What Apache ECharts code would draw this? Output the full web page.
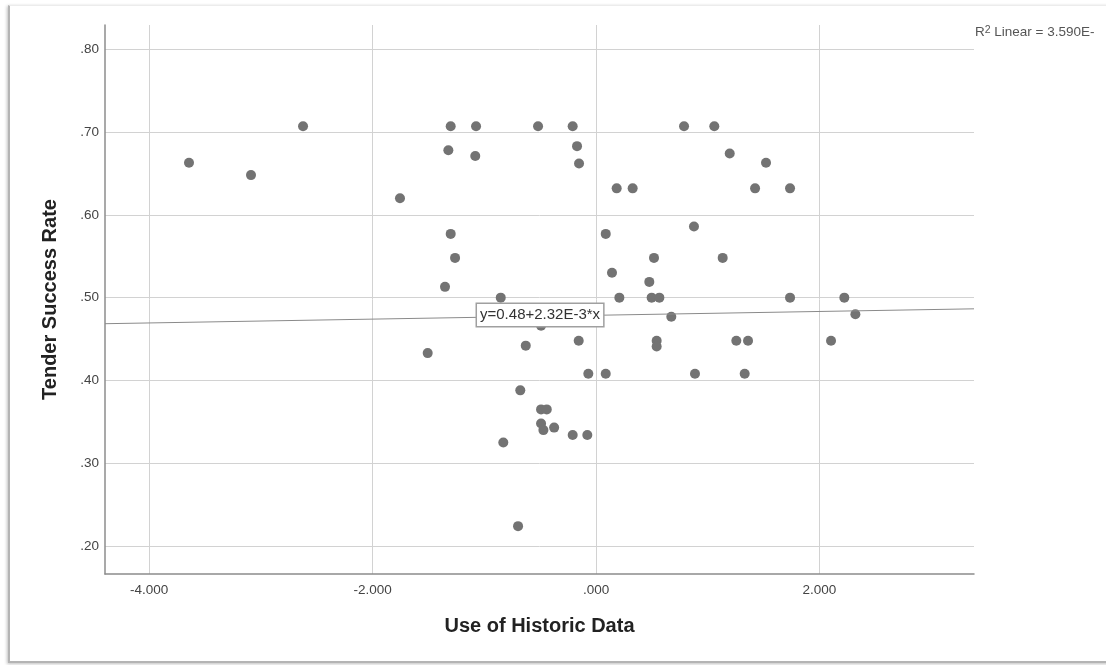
<!DOCTYPE html>
<html>
<head>
<meta charset="utf-8">
<script src="https://cdn.jsdelivr.net/npm/echarts@6/dist/echarts.min.js"></script>
<style>
html, body { margin: 0; padding: 0; background: #fff; }
#frame {
    position: absolute; left: 8px; top: 5px; width: 1110px; height: 655px;
    border-left: 2px solid #b4b4b4; border-top: 1px solid #ececec; border-bottom: 2px solid #b4b4b4;
    box-shadow: -1px 1px 3px rgba(0,0,0,0.25);
}
#main { position: absolute; left: 0; top: 0; width: 1106px; height: 665px; }
</style>
</head>
<body>
<div id="frame"></div>
<div id="main"></div>
<script>
// Use of Historic Data (x) vs Tender Success Rate (y)
const historicData = [
    -3.644, -3.089, -2.623, -1.755, -1.301, -1.074, -0.519, -0.209,
    -1.322, -1.081, -0.170, -0.152, 0.185, 0.328, 0.788, 1.059,
    1.197, 1.522, 1.424, 1.737, -1.301, 0.087, 0.877,
    -1.262, -1.352, -0.853, -0.492, -1.507, -0.629, -0.155, -0.069, 0.087,
    -0.678, -0.492, -0.441, -0.492, -0.471, -0.375, -0.209, -0.078, -0.830, -0.698,
    0.519, 1.134, 0.143, 0.477, 0.209, 0.498, 0.567, 0.674, 0.543, 0.543,
    1.256, 1.361, 0.886, 1.331, 1.737, 2.223, 2.322, 2.104
];
const successRate = [
    0.663, 0.648, 0.707, 0.620, 0.707, 0.707, 0.707, 0.707,
    0.678, 0.671, 0.683, 0.662, 0.632, 0.632, 0.707, 0.707,
    0.674, 0.663, 0.632, 0.632, 0.577, 0.577, 0.586,
    0.548, 0.513, 0.500, 0.466, 0.433, 0.442, 0.448, 0.408, 0.408,
    0.388, 0.365, 0.365, 0.348, 0.340, 0.343, 0.334, 0.334, 0.325, 0.224,
    0.548, 0.548, 0.530, 0.519, 0.500, 0.500, 0.500, 0.477, 0.448, 0.441,
    0.448, 0.448, 0.408, 0.408, 0.500, 0.500, 0.480, 0.448
];
// fit line end points (left and right edge of the plot)
const fitLine = [[-4.396, 0.4685], [3.384, 0.4865]];
const fitLabel = 'y=0.48+2.32E-3*x';
const xTicks = [-4, -2, 0, 2];
const yTicks = [0.2, 0.3, 0.4, 0.5, 0.6, 0.7, 0.8];

const points = historicData.map((x, i) => [x, successRate[i]]);

function trimZero(s) {
    return s.replace(/^0\./, '.').replace(/^-0\./, '-.');
}

const font = 'Liberation Sans, Arial, sans-serif';

const chart = echarts.init(document.getElementById('main'));
chart.setOption({
    animation: false,
    textStyle: { fontFamily: font },
    grid: { left: 105, right: 132, top: 25, bottom: 91, containLabel: false },
    xAxis: {
        type: 'value',
        min: -4.396,
        max: 3.384,
        name: 'Use of Historic Data',
        nameLocation: 'middle',
        nameGap: 42,
        nameTextStyle: { fontSize: 20, fontWeight: 'bold', color: '#222' },
        axisLine: { show: true, onZero: false, lineStyle: { color: '#8c8c8c', width: 1.5 } },
        axisTick: { show: false, customValues: xTicks },
        axisLabel: {
            customValues: xTicks,
            fontSize: 13.5, color: '#444', margin: 9,
            formatter: v => trimZero(v.toFixed(3))
        },
        splitLine: { show: true, lineStyle: { color: '#d2d2d2', width: 1 } }
    },
    yAxis: {
        type: 'value',
        min: 0.1662,
        max: 0.8293,
        name: 'Tender Success Rate',
        nameLocation: 'middle',
        nameGap: 45,
        nameTextStyle: { fontSize: 20, fontWeight: 'bold', color: '#222' },
        axisLine: { show: true, onZero: false, lineStyle: { color: '#8c8c8c', width: 1.5 } },
        axisTick: { show: false, customValues: yTicks },
        axisLabel: {
            customValues: yTicks,
            fontSize: 13.5, color: '#444', margin: 6,
            formatter: v => trimZero(v.toFixed(2))
        },
        splitLine: { show: true, lineStyle: { color: '#d2d2d2', width: 1 } }
    },
    graphic: [{
        type: 'text',
        left: 975,
        top: 25,
        style: {
            text: '{r|R}{s|2}{r| Linear = 3.590E-}',
            rich: {
                r: { fontSize: 13.5, fill: '#555', fontFamily: font, verticalAlign: 'bottom' },
                s: { fontSize: 10.5, fill: '#555', fontFamily: font, verticalAlign: 'top' }
            }
        }
    }],
    series: [{
        type: 'scatter',
        data: points,
        symbolSize: 10,
        itemStyle: { color: '#737373', opacity: 1 },
        silent: true
    }, {
        type: 'line',
        data: fitLine,
        showSymbol: false,
        symbol: 'none',
        silent: true,
        lineStyle: { color: '#8a8a8a', width: 1 },
        z: 3,
        markPoint: {
            symbol: 'rect',
            symbolSize: 1,
            itemStyle: { color: 'rgba(0,0,0,0)' },
            data: [{ coord: [-0.501, 0.479] }],
            label: {
                show: true,
                position: 'inside',
                formatter: fitLabel,
                fontSize: 15,
                color: '#333',
                fontFamily: font,
                backgroundColor: '#fff',
                borderColor: '#a0a0a0',
                borderWidth: 1.5,
                padding: [4, 3, 3, 3]
            }
        }
    }]
});
</script>
</body>
</html>
